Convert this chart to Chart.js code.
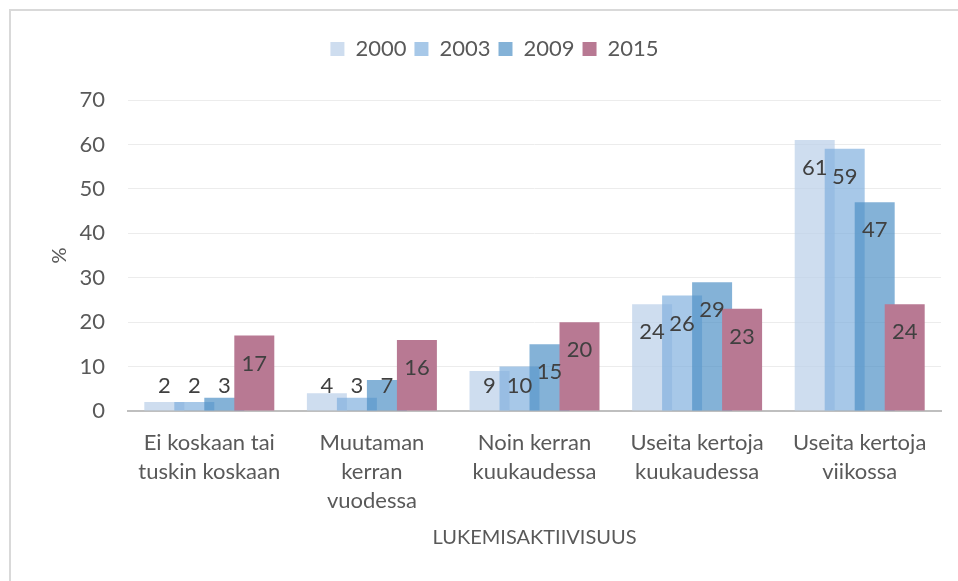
<!DOCTYPE html>
<html>
<head>
<meta charset="utf-8">
<script src="https://cdn.jsdelivr.net/npm/chart.js@4/dist/chart.umd.min.js"></script>
<style>
  html, body { margin: 0; padding: 0; background: #fff; }
  #frame { position: absolute; left: 9px; top: 9px; width: 980px; height: 600px;
           border-left: 2px solid #d9d9d9; border-top: 2px solid #d9d9d9; }
  #wrap { position: absolute; left: 0; top: 0; width: 958px; height: 581px; }
</style>
</head>
<body>
<div id="frame"></div>
<div id="wrap"><canvas id="lukuChart" width="958" height="581"></canvas></div>
<script>
// Lukemisaktiivisuus vuosittain (%)
const categories = [
  ['Ei koskaan tai', 'tuskin koskaan'],
  ['Muutaman', 'kerran', 'vuodessa'],
  ['Noin kerran', 'kuukaudessa'],
  ['Useita kertoja', 'kuukaudessa'],
  ['Useita kertoja', 'viikossa']
];
const years = ['2000', '2003', '2009', '2015'];
const v2000 = [2, 4, 9, 24, 61];
const v2003 = [2, 3, 10, 26, 59];
const v2009 = [3, 7, 15, 29, 47];
const v2015 = [17, 16, 20, 23, 24];
const yTicks = [0, 10, 20, 30, 40, 50, 60, 70];

const colors = ['rgba(190,210,234,0.75)', 'rgba(126,174,221,0.68)', 'rgba(80,145,198,0.7)', '#b87993'];
const FONT = 'Lato';

// piirrä sarjat järjestyksessä, jotta 2015 jää päällimmäiseksi
const drawInOrder = {
  id: 'drawInOrder',
  beforeDatasetsDraw(chart) {
    const ctx = chart.ctx;
    const a = chart.chartArea;
    ctx.save();
    ctx.beginPath();
    ctx.rect(a.left, a.top - 2, a.right - a.left, a.bottom - a.top + 2);
    ctx.clip();
    chart.data.datasets.forEach((ds, i) => {
      const meta = chart.getDatasetMeta(i);
      if (meta.visible) meta.controller.draw();
    });
    ctx.restore();
    return false;
  },
  afterDraw(chart) {
    // arvot palkkien päälle
    const ctx = chart.ctx;
    ctx.save();
    ctx.font = '22px ' + FONT;
    ctx.fillStyle = '#404040';
    ctx.textAlign = 'center';
    ctx.textBaseline = 'middle';
    chart.data.datasets.forEach((ds, i) => {
      const meta = chart.getDatasetMeta(i);
      meta.data.forEach((bar, j) => {
        const y = Math.min(bar.y + 28, bar.base - 25);
        ctx.fillText(String(ds.data[j]), bar.x, y);
      });
    });
    ctx.restore();
  }
};

// lisää tilaa selitteen alle ja siirrä sitä hieman oikealle
const legendGap = {
  id: 'legendGap',
  beforeInit(chart) {
    const fit = chart.legend.fit;
    chart.legend.fit = function () {
      fit.bind(chart.legend)();
      this.height += 30;
    };
  },
  afterLayout(chart) {
    chart.legend.left += 38;
  }
};

const allData = [v2000, v2003, v2009, v2015];

new Chart(document.getElementById('lukuChart'), {
  type: 'bar',
  data: {
    labels: categories,
    datasets: years.map((y, i) => ({
      label: y,
      data: allData[i],
      backgroundColor: colors[i],
      borderWidth: 0,
      categoryPercentage: 0.738,
      barPercentage: 1.333
    }))
  },
  plugins: [legendGap, drawInOrder],
  options: {
    responsive: false,
    animation: false,
    layout: { padding: { left: 10, right: 17, top: 30, bottom: 31 } },
    plugins: {
      tooltip: { enabled: false },
      legend: {
        position: 'top',
        labels: {
          boxWidth: 14,
          boxHeight: 14,
          padding: 8,
          color: '#595959',
          font: { family: FONT, size: 22 }
        }
      }
    },
    scales: {
      x: {
        grid: { display: false, drawTicks: false },
        border: { display: true, color: '#bfbfbf', width: 2 },
        ticks: {
          color: '#595959',
          padding: 18,
          maxRotation: 0,
          autoSkip: false,
          font: { family: FONT, size: 22, lineHeight: 1.3 }
        },
        title: {
          display: true,
          text: 'LUKEMISAKTIIVISUUS',
          color: '#595959',
          padding: 0,
          font: { family: FONT, size: 20 }
        },
        afterFit(scale) { scale.height = 139; }
      },
      y: {
        min: 0,
        max: 70,
        afterBuildTicks(scale) { scale.ticks = yTicks.map(v => ({ value: v })); },
        grid: { color: '#ececec', lineWidth: 1, drawTicks: false },
        border: { display: false },
        ticks: {
          color: '#595959',
          padding: 23,
          font: { family: FONT, size: 22 }
        },
        title: {
          display: true,
          text: '%',
          color: '#595959',
          padding: { top: 38, bottom: 0 },
          font: { family: FONT, size: 20 }
        },
        afterFit(scale) { scale.width = 118; }
      }
    }
  }
});
</script>
</body>
</html>
